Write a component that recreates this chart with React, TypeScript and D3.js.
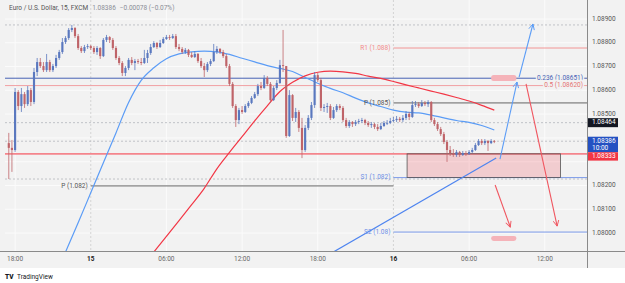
import React from "react";
import * as d3 from "d3";

const W = 625;
const H = 283;
const PLOT = { left: 5, right: 587, top: 0, bottom: 251 };
const FONT = "Roboto, 'Liberation Sans', sans-serif";

const at = (d: number, h: number, m = 0) => new Date(2023, 10, d, h, m);

// time window of the x axis
const viewStart = at(14, 17, 12);
const viewEnd = at(16, 15, 21);

// 15 minute bars, first bar 14th 17:30
const firstBar = at(14, 17, 30);
const firstOpen = 1.08378;
const closes = [
  1.08358, 1.08349, 1.08593, 1.08534, 1.08584, 1.08542, 1.08601, 1.08551, 1.08677, 1.08719,
  1.08702, 1.08685, 1.08719, 1.08685, 1.08702, 1.08736, 1.08761, 1.08803, 1.08820, 1.08854,
  1.08862, 1.08828, 1.08778, 1.08765, 1.08782, 1.08786, 1.08778, 1.08761, 1.08778, 1.08744,
  1.08812, 1.08824, 1.08812, 1.08778, 1.08736, 1.08715, 1.08673, 1.08694, 1.08728, 1.08715,
  1.08723, 1.08719, 1.08715, 1.08736, 1.08757, 1.08782, 1.08799, 1.08782, 1.08799, 1.08816,
  1.08824, 1.08820, 1.08828, 1.08782, 1.08774, 1.08761, 1.08770, 1.08749, 1.08740, 1.08753,
  1.08723, 1.08702, 1.08685, 1.08711, 1.08723, 1.08761, 1.08774, 1.08761, 1.08744, 1.08702,
  1.08627, 1.08534, 1.08475, 1.08517, 1.08509, 1.08534, 1.08547, 1.08568, 1.08584, 1.08618,
  1.08610, 1.08652, 1.08627, 1.08559, 1.08610, 1.08631, 1.08706, 1.08702, 1.08408, 1.08580,
  1.08484, 1.08509, 1.08442, 1.08349, 1.08442, 1.08484, 1.08538, 1.08664, 1.08643, 1.08526,
  1.08530, 1.08534, 1.08484, 1.08517, 1.08534, 1.08526, 1.08475, 1.08450, 1.08467, 1.08458,
  1.08467, 1.08471, 1.08475, 1.08463, 1.08454, 1.08458, 1.08446, 1.08437, 1.08450, 1.08463,
  1.08463, 1.08471, 1.08475, 1.08480, 1.08475, 1.08484, 1.08501, 1.08488, 1.08538, 1.08542,
  1.08534, 1.08547, 1.08542, 1.08551, 1.08475, 1.08458, 1.08437, 1.08416, 1.08383, 1.08349,
  1.08336, 1.08328, 1.08341, 1.08328, 1.08336, 1.08332, 1.08341, 1.08349, 1.08370, 1.08387,
  1.08378, 1.08387, 1.08378, 1.08387, 1.08386,
];
const highs = [
  1.08421, 1.08391, 1.08610, 1.08601, 1.08610, 1.08593, 1.08618, 1.08610, 1.08694, 1.08736,
  1.08736, 1.08719, 1.08753, 1.08728, 1.08711, 1.08749, 1.08770, 1.08820, 1.08828, 1.08862,
  1.08875, 1.08866, 1.08837, 1.08786, 1.08791, 1.08795, 1.08791, 1.08786, 1.08786, 1.08782,
  1.08820, 1.08833, 1.08828, 1.08820, 1.08786, 1.08744, 1.08723, 1.08702, 1.08736, 1.08740,
  1.08732, 1.08732, 1.08736, 1.08770, 1.08770, 1.08795, 1.08807, 1.08803, 1.08812, 1.08824,
  1.08833, 1.08833, 1.08837, 1.08837, 1.08795, 1.08782, 1.08778, 1.08774, 1.08761, 1.08765,
  1.08757, 1.08736, 1.08715, 1.08719, 1.08732, 1.08795, 1.08786, 1.08778, 1.08770, 1.08753,
  1.08711, 1.08635, 1.08542, 1.08526, 1.08534, 1.08542, 1.08555, 1.08576, 1.08593, 1.08627,
  1.08635, 1.08664, 1.08660, 1.08635, 1.08618, 1.08643, 1.08728, 1.08854, 1.08702, 1.08601,
  1.08584, 1.08526, 1.08517, 1.08484, 1.08454, 1.08496, 1.08551, 1.08677, 1.08673, 1.08652,
  1.08542, 1.08547, 1.08542, 1.08530, 1.08542, 1.08542, 1.08534, 1.08484, 1.08475, 1.08471,
  1.08475, 1.08480, 1.08484, 1.08480, 1.08471, 1.08467, 1.08463, 1.08458, 1.08463, 1.08471,
  1.08475, 1.08484, 1.08488, 1.08492, 1.08488, 1.08496, 1.08513, 1.08509, 1.08555, 1.08555,
  1.08551, 1.08559, 1.08555, 1.08559, 1.08555, 1.08484, 1.08467, 1.08446, 1.08425, 1.08391,
  1.08366, 1.08353, 1.08349, 1.08345, 1.08345, 1.08345, 1.08349, 1.08358, 1.08378, 1.08395,
  1.08395, 1.08395, 1.08391, 1.08395, 1.08391,
];
const lows = [
  1.08227, 1.08257, 1.08341, 1.08517, 1.08509, 1.08526, 1.08534, 1.08534, 1.08542, 1.08660,
  1.08694, 1.08677, 1.08677, 1.08677, 1.08677, 1.08694, 1.08728, 1.08753, 1.08795, 1.08812,
  1.08845, 1.08820, 1.08770, 1.08757, 1.08757, 1.08774, 1.08770, 1.08753, 1.08749, 1.08732,
  1.08740, 1.08803, 1.08799, 1.08770, 1.08728, 1.08706, 1.08660, 1.08660, 1.08685, 1.08706,
  1.08685, 1.08711, 1.08706, 1.08711, 1.08715, 1.08749, 1.08778, 1.08774, 1.08778, 1.08795,
  1.08812, 1.08812, 1.08816, 1.08774, 1.08765, 1.08753, 1.08753, 1.08740, 1.08736, 1.08736,
  1.08715, 1.08694, 1.08656, 1.08677, 1.08702, 1.08719, 1.08753, 1.08753, 1.08736, 1.08694,
  1.08618, 1.08526, 1.08446, 1.08458, 1.08501, 1.08505, 1.08526, 1.08542, 1.08564, 1.08576,
  1.08601, 1.08606, 1.08618, 1.08547, 1.08555, 1.08601, 1.08627, 1.08677, 1.08400, 1.08404,
  1.08471, 1.08467, 1.08425, 1.08315, 1.08341, 1.08433, 1.08475, 1.08526, 1.08635, 1.08513,
  1.08509, 1.08505, 1.08475, 1.08480, 1.08509, 1.08517, 1.08467, 1.08442, 1.08442, 1.08446,
  1.08450, 1.08458, 1.08463, 1.08454, 1.08446, 1.08442, 1.08437, 1.08429, 1.08433, 1.08446,
  1.08454, 1.08458, 1.08467, 1.08467, 1.08467, 1.08467, 1.08475, 1.08475, 1.08484, 1.08530,
  1.08526, 1.08530, 1.08534, 1.08530, 1.08467, 1.08450, 1.08429, 1.08408, 1.08374, 1.08299,
  1.08324, 1.08320, 1.08320, 1.08320, 1.08324, 1.08324, 1.08328, 1.08336, 1.08345, 1.08366,
  1.08370, 1.08370, 1.08345, 1.08374, 1.08378,
];

// moving averages, hourly readings
const blueMaStart = at(14, 22);
const blueMa = [
  1.0792, 1.08043, 1.08169, 1.08295, 1.08421, 1.08549, 1.08642, 1.08695, 1.08733, 1.08753,
  1.08762, 1.08765, 1.08762, 1.08751, 1.08735, 1.0872, 1.08704, 1.08692, 1.08679, 1.08654,
  1.0863, 1.08608, 1.0859, 1.08567, 1.08547, 1.08532, 1.08517, 1.08508, 1.08505, 1.08496,
  1.08484, 1.08473, 1.08465, 1.08452, 1.08433,
];
const redMaStart = at(15, 5);
const redMa = [
  1.0792, 1.07986, 1.08052, 1.08119, 1.08188, 1.0827, 1.08339, 1.08405, 1.08472, 1.08535,
  1.08595, 1.08634, 1.08661, 1.08676, 1.08681, 1.08678, 1.08671, 1.0866, 1.0865, 1.08637,
  1.08623, 1.0861, 1.08597, 1.08584, 1.0857, 1.08555, 1.08537, 1.08517,
];

// levels
const fibRatios = ["0.236", "0.5"];
const fibPrices = [1.08651, 1.0862];
const supportPrice = 1.08333;
const dashedPrices = [1.08875, 1.08464, 1.08227];
const markedPrice = 1.08464;

const pivotNames = ["R1", "P", "S1", "S2"];
const pivotPrices = [1.08778, 1.08547, 1.08233, 1.08004];
const pivotStart = at(16, 0);
const prevPivotPrice = 1.08198;
const prevPivotStart = at(15, 0);

// drawings
const zone = { t0: at(16, 1, 5), t1: at(16, 13, 15), top: 1.08333, bottom: 1.08233 };
const trendLine: [Date, number][] = [[at(15, 19, 14), 1.0792], [at(16, 8, 9), 1.08315]];
const blueArrows: [Date, number][][] = [
  [[at(16, 8, 27), 1.08311], [at(16, 9, 48), 1.08635]],
  [[at(16, 9, 58), 1.08656], [at(16, 11, 4), 1.08879]],
];
const redArrows: [Date, number][][] = [
  [[at(16, 10, 31), 1.08627], [at(16, 12, 59), 1.08029]],
  [[at(16, 8, 4), 1.08202], [at(16, 9, 16), 1.08025]],
];
const pills = [
  { t0: at(16, 7, 45), t1: at(16, 9, 45), top: 1.08664, bottom: 1.08639 },
  { t0: at(16, 7, 45), t1: at(16, 9, 45), top: 1.07987, bottom: 1.07966 },
];

const UP = "#5a78bf";
const DOWN = "#bf6469";
const BG = "#f2f2f2";

export default function App() {
  const x = d3.scaleTime().domain([viewStart, viewEnd]).range([PLOT.left, PLOT.right]);
  const y = d3.scaleLinear().domain([1.08, 1.089]).range([233, 19]);
  const step = x(d3.timeMinute.offset(firstBar, 15)) - x(firstBar);
  const bodyW = step * 0.68;

  const bars = closes.map((c, i) => ({
    t: d3.timeMinute.offset(firstBar, 15 * i),
    o: i === 0 ? firstOpen : closes[i - 1],
    h: highs[i],
    l: lows[i],
    c,
  }));
  const last = bars[bars.length - 1];

  const maLine = d3
    .line<[Date, number]>()
    .x((d) => x(d[0]))
    .y((d) => y(d[1]))
    .curve(d3.curveMonotoneX);
  const bluePts = blueMa.map((v, i) => [d3.timeHour.offset(blueMaStart, i), v] as [Date, number]);
  const redPts = redMa.map((v, i) => [d3.timeHour.offset(redMaStart, i), v] as [Date, number]);
  const seg = d3
    .line<[Date, number]>()
    .x((d) => x(d[0]))
    .y((d) => y(d[1]));

  const timeTicks = x.ticks(d3.timeHour.every(6)!);
  const isMidnight = (d: Date) => d.getHours() === 0;
  const fmtTime = (d: Date) => (isMidnight(d) ? d3.timeFormat("%-d")(d) : d3.timeFormat("%H:%M")(d));
  const fmtPrice = d3.format(".5f");
  const pivotText = (p: number) => String(+p.toFixed(3));

  // price badges on the right scale
  const blueY = y(last.c);
  const blueTop = blueY - 4.5;
  const blueBottom = blueY + 11;
  const redY = Math.max(y(supportPrice), blueBottom + 4.2);
  const markY = y(markedPrice);
  const badgeSpans = [
    [markY - 4.5, markY + 4.5],
    [blueTop, blueBottom],
    [redY - 4.2, redY + 4.2],
  ];
  // the scale hides tick labels that sit under a badge
  const priceTicks = y.ticks(10);
  const shownTicks = priceTicks.filter((p) =>
    badgeSpans.every(([a, b]) => y(p) + 3.5 < a || y(p) - 3.5 > b)
  );

  const label = (txt: string, xx: number, yy: number, fill: string, anchor = "end", weight = 400) => (
    <text
      x={xx}
      y={yy}
      fill={fill}
      fontSize={6.5}
      fontWeight={weight}
      textAnchor={anchor}
      dominantBaseline="middle"
      fontFamily={FONT}
    >
      {txt}
    </text>
  );

  return (
    <svg width={W} height={H} style={{ position: "absolute", left: 0, top: 0 }}>
      <defs>
        <clipPath id="plot">
          <rect x={PLOT.left} y={PLOT.top} width={PLOT.right - PLOT.left} height={PLOT.bottom - PLOT.top} />
        </clipPath>
        <marker id="ab" viewBox="0 0 10 10" refX="9" refY="5" markerWidth="7" markerHeight="7" orient="auto" markerUnits="userSpaceOnUse">
          <path d="M1,1 L9,5 L1,9" fill="none" stroke="#5b9cf6" strokeWidth={1.3} />
        </marker>
        <marker id="ar" viewBox="0 0 10 10" refX="9" refY="5" markerWidth="7" markerHeight="7" orient="auto" markerUnits="userSpaceOnUse">
          <path d="M1,1 L9,5 L1,9" fill="none" stroke="#f0555f" strokeWidth={1.3} />
        </marker>
      </defs>

      <rect x={0} y={0} width={W} height={268} fill={BG} />
      <rect x={0} y={268} width={W} height={H - 268} fill="#ffffff" />

      <g clipPath="url(#plot)">
        {/* grid */}
        {priceTicks.map((p) => (
          <line key={p} x1={PLOT.left} x2={PLOT.right} y1={y(p)} y2={y(p)} stroke="#fbfbfb" strokeWidth={1} />
        ))}
        {timeTicks.map((t) => (
          <line
            key={+t}
            x1={x(t)}
            x2={x(t)}
            y1={PLOT.top}
            y2={PLOT.bottom}
            stroke={isMidnight(t) ? "#d4d4d4" : "#fbfbfb"}
            strokeDasharray={isMidnight(t) ? "2,2" : undefined}
            strokeWidth={1}
          />
        ))}

        {/* dashed reference lines */}
        {dashedPrices.concat([last.c]).map((p, i) => (
          <line key={i} x1={PLOT.left} x2={PLOT.right} y1={y(p)} y2={y(p)} stroke="#b4b6bd" strokeWidth={0.8} strokeDasharray="2,2" />
        ))}

        {/* pivots */}
        <line x1={x(prevPivotStart)} x2={x(pivotStart)} y1={y(prevPivotPrice)} y2={y(prevPivotPrice)} stroke="#555" strokeWidth={0.9} />
        {pivotPrices.map((p, i) => (
          <line
            key={i}
            x1={x(pivotStart)}
            x2={PLOT.right}
            y1={y(p)}
            y2={y(p)}
            stroke={i === 0 ? "#f28b8b" : i === 1 ? "#555" : "#6d8fe6"}
            strokeWidth={0.9}
          />
        ))}

        {/* support zone */}
        <line x1={PLOT.left} x2={PLOT.right} y1={y(supportPrice)} y2={y(supportPrice)} stroke="#f4858c" strokeWidth={1.8} />
        <rect
          x={x(zone.t0)}
          y={y(zone.top)}
          width={x(zone.t1) - x(zone.t0)}
          height={y(zone.bottom) - y(zone.top)}
          fill="rgba(242,54,69,0.2)"
          stroke="#555"
          strokeWidth={0.8}
        />

        {/* fib levels */}
        <line x1={PLOT.left} x2={PLOT.right} y1={y(fibPrices[0])} y2={y(fibPrices[0])} stroke="#4863b5" strokeWidth={1} />
        <line x1={PLOT.left} x2={PLOT.right} y1={y(fibPrices[1])} y2={y(fibPrices[1])} stroke="#f1a1a4" strokeWidth={1} />

        {/* moving averages */}
        <path d={maLine(bluePts) ?? ""} fill="none" stroke="#5b9cf6" strokeWidth={1.2} />
        <path d={maLine(redPts) ?? ""} fill="none" stroke="#f23645" strokeWidth={1.2} />

        {/* candles */}
        {bars.map((b, i) => {
          const cx = x(b.t);
          const up = b.c >= b.o;
          const col = up ? UP : DOWN;
          const top = y(Math.max(b.o, b.c));
          const bot = y(Math.min(b.o, b.c));
          return (
            <g key={i}>
              <line x1={cx} x2={cx} y1={y(b.h)} y2={y(b.l)} stroke={col} strokeWidth={0.8} />
              <rect x={cx - bodyW / 2} y={top} width={bodyW} height={Math.max(0.8, bot - top)} fill={col} />
            </g>
          );
        })}

        {/* drawings */}
        <path d={seg(trendLine) ?? ""} stroke="#4d84f0" strokeWidth={1.2} fill="none" />
        {blueArrows.map((a, i) => (
          <path key={i} d={seg(a) ?? ""} stroke="#5b9cf6" strokeWidth={1.1} fill="none" markerEnd="url(#ab)" />
        ))}
        {redArrows.map((a, i) => (
          <path key={i} d={seg(a) ?? ""} stroke="#f0555f" strokeWidth={1.1} fill="none" markerEnd="url(#ar)" />
        ))}
        {pills.map((p, i) => (
          <rect
            key={i}
            x={x(p.t0)}
            y={y(p.top)}
            width={x(p.t1) - x(p.t0)}
            height={y(p.bottom) - y(p.top)}
            rx={2.5}
            fill="#f5b3b9"
          />
        ))}
      </g>

      {/* level labels */}
      {label(`P (${pivotText(prevPivotPrice)})`, x(prevPivotStart) - 3, y(prevPivotPrice), "#555")}
      {pivotPrices.map((p, i) => (
        <g key={i}>
          {label(
            `${pivotNames[i]} (${pivotText(p)})`,
            x(pivotStart) - 3,
            y(p),
            i === 0 ? "#f28b8b" : i === 1 ? "#555" : "#6d8fe6"
          )}
        </g>
      ))}
      {fibPrices.map((p, i) => (
        <text
          key={i}
          x={PLOT.right - 4}
          y={y(p)}
          fill={i === 0 ? "#4863b5" : "#e57373"}
          fontSize={6.5}
          textAnchor="end"
          dominantBaseline="middle"
          fontFamily={FONT}
          stroke={BG}
          strokeWidth={3}
          paintOrder="stroke"
        >
          {`${fibRatios[i]} (${fmtPrice(p)})`}
        </text>
      ))}

      {/* axes */}
      <line x1={PLOT.right + 0.5} x2={PLOT.right + 0.5} y1={0} y2={268} stroke="#8a8a8a" strokeWidth={1} />
      <line x1={0} x2={W} y1={PLOT.bottom + 0.5} y2={PLOT.bottom + 0.5} stroke="#8a8a8a" strokeWidth={1} />
      {shownTicks.map((p) => (
        <g key={p}>{label(fmtPrice(p), PLOT.right + 5, y(p), "#555", "start")}</g>
      ))}
      {timeTicks.map((t) => (
        <g key={+t}>
          {label(fmtTime(t), x(t), 259, isMidnight(t) ? "#222" : "#666", "middle", isMidnight(t) ? 700 : 400)}
        </g>
      ))}

      {/* price badges */}
      <rect x={PLOT.right + 1} y={markY - 4.5} width={30} height={9} fill="#131722" />
      {label(fmtPrice(markedPrice), PLOT.right + 5, markY, "#fff", "start")}
      <rect x={PLOT.right + 1} y={blueTop} width={30} height={blueBottom - blueTop} fill="#2451c2" />
      {label(fmtPrice(last.c), PLOT.right + 5, blueY, "#fff", "start")}
      {label("10:00", PLOT.right + 5, blueY + 7.5, "#fff", "start")}
      <rect x={PLOT.right + 1} y={redY - 4.2} width={30} height={8.4} fill="#f23645" />
      {label(fmtPrice(supportPrice), PLOT.right + 5, redY, "#fff", "start")}

      {/* title */}
      <text x={9} y={8} fontSize={6.5} dominantBaseline="middle" fontFamily={FONT}>
        <tspan fill="#555">Euro / U.S. Dollar, 15, FXCM</tspan>
        <tspan fill="#8a8d96" dx={4}>{fmtPrice(last.c)}</tspan>
        <tspan fill="#8a8d96" dx={4}>−0.00078 (−0.07%)</tspan>
      </text>

      {/* logo */}
      <text x={5} y={277} fontSize={6.5} fontWeight={900} fill="#131722" dominantBaseline="middle" fontFamily={FONT}>
        TV
      </text>
      <text x={17} y={277} fontSize={6.5} fill="#131722" dominantBaseline="middle" fontFamily={FONT}>
        TradingView
      </text>
    </svg>
  );
}
